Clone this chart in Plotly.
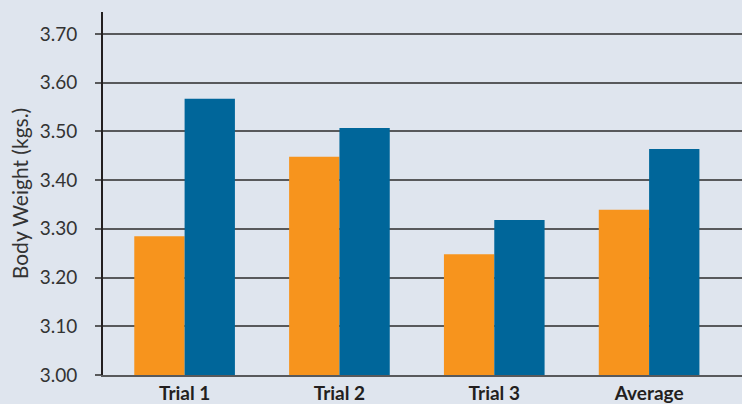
import plotly.graph_objects as go

# Body weight per trial for the two groups
categories = ["Trial 1", "Trial 2", "Trial 3", "Average"]
group_a = [3.285, 3.448, 3.248, 3.339]
group_b = [3.567, 3.507, 3.318, 3.464]
y_ticks = [3.00, 3.10, 3.20, 3.30, 3.40, 3.50, 3.60, 3.70]

ORANGE = "#f7941d"
BLUE = "#00669a"
BG = "#dfe5ee"
GRID = "#58595b"

fig = go.Figure()
fig.add_trace(go.Bar(x=categories, y=group_a, marker=dict(color=ORANGE, line=dict(width=0)), name="A"))
fig.add_trace(go.Bar(x=categories, y=group_b, marker=dict(color=BLUE, line=dict(width=0)), name="B"))

fig.update_layout(
    width=742, height=404,
    margin=dict(l=103, r=0, t=12, b=29),
    paper_bgcolor=BG, plot_bgcolor=BG,
    barmode="group", bargap=0.35, bargroupgap=0,
    showlegend=False,
    font=dict(family="Lato, Open Sans, sans-serif", color="#333333"),
)
fig.update_xaxes(
    type="category", range=[-0.527, 3.6], automargin=False,
    showgrid=False, showline=True, linecolor=GRID, linewidth=2,
    ticks="", tickfont=dict(size=19, color="#231f20", family="Lato, sans-serif", weight="bold"),
    ticklabelstandoff=0,
)
fig.update_yaxes(
    range=[3.0, 3.745], tickvals=y_ticks, tickformat=".2f", automargin=False,
    showgrid=True, gridcolor=GRID, gridwidth=2,
    showline=True, linecolor="#231f20", linewidth=2,
    ticks="outside", ticklen=6, tickwidth=2, tickcolor=GRID,
    tickfont=dict(size=19, color="#333333"),
    ticklabelstandoff=14,
    title=dict(text="Body Weight (kgs.)", font=dict(size=21, color="#333333"), standoff=5),
    zeroline=False,
)

fig.write_html("out.html")
